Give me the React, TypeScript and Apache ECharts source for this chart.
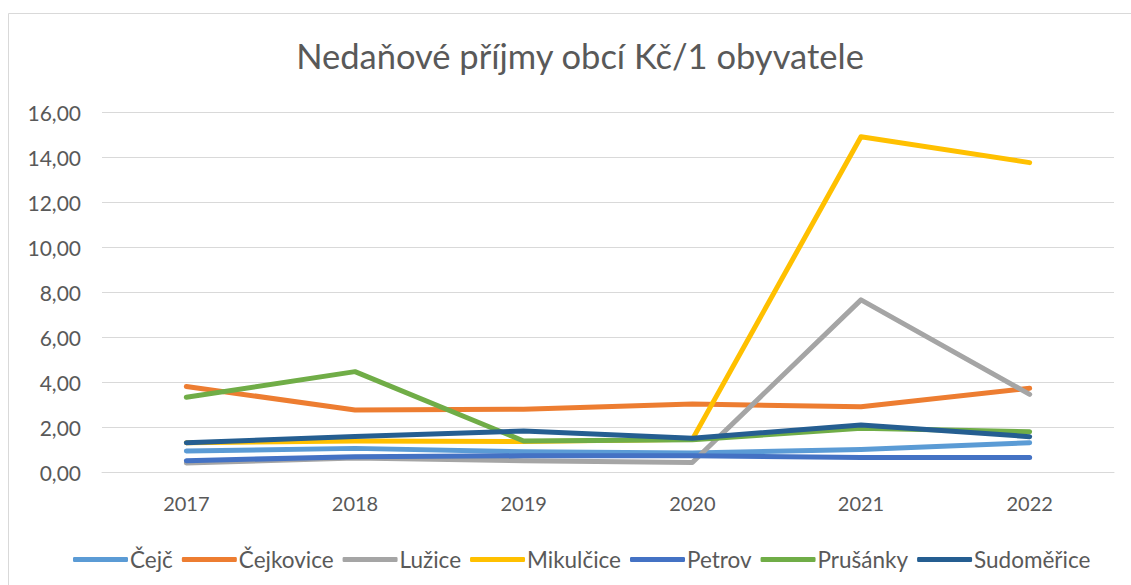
import React, { useEffect, useRef } from "react";
import * as echarts from "echarts";

const years = ["2017", "2018", "2019", "2020", "2021", "2022"];
const cejc = [0.93, 1.05, 0.9, 0.85, 1.0, 1.3];
const cejkovice = [3.8, 2.76, 2.79, 3.02, 2.9, 3.72];
const luzice = [0.4, 0.62, 0.5, 0.42, 7.65, 3.45];
const mikulcice = [1.3, 1.38, 1.35, 1.45, 14.9, 13.75];
const petrov = [0.5, 0.68, 0.72, 0.72, 0.64, 0.64];
const prusanky = [3.32, 4.46, 1.38, 1.43, 1.94, 1.79];
const sudomerice = [1.3, 1.58, 1.82, 1.5, 2.09, 1.57];

const seriesDefs = [
  { name: "Čejč", data: cejc, color: "#5B9BD5" },
  { name: "Čejkovice", data: cejkovice, color: "#ED7D31" },
  { name: "Lužice", data: luzice, color: "#A5A5A5" },
  { name: "Mikulčice", data: mikulcice, color: "#FFC000" },
  { name: "Petrov", data: petrov, color: "#4472C4" },
  { name: "Prušánky", data: prusanky, color: "#70AD47" },
  { name: "Sudoměřice", data: sudomerice, color: "#255E91" },
];

const FONT = "Lato";
const TXT = "#595959";

export default function App() {
  const ref = useRef<HTMLDivElement>(null);
  useEffect(() => {
    if (!ref.current) return;
    const chart = echarts.init(ref.current, undefined, { renderer: "svg" });
    chart.setOption({
      animation: false,
      backgroundColor: "#ffffff",
      textStyle: { fontFamily: FONT },
      title: {
        text: "Nedaňové příjmy obcí Kč/1 obyvatele",
        left: 575,
        textAlign: "center",
        top: 33,
        textStyle: { fontFamily: FONT, fontSize: 34.5, fontWeight: "normal", color: TXT },
      },
      graphic: [
        {
          type: "rect",
          shape: { x: 8.5, y: 13.5, width: 1200, height: 700 },
          style: { fill: "none", stroke: "#D9D9D9", lineWidth: 1 },
          silent: true,
        },
      ],
      grid: { left: 102, right: 17, top: 112, bottom: 113, containLabel: false },
      legend: {
        left: 73,
        top: 548,
        padding: 0,
        itemWidth: 55,
        itemHeight: 5,
        itemGap: 9,
        icon: "roundRect",
        textStyle: { fontFamily: FONT, fontSize: 22.5, color: TXT, padding: [0, 0, 0, -3] },
        data: seriesDefs.map((s) => s.name),
      },
      xAxis: {
        type: "category",
        data: years,
        boundaryGap: true,
        axisLine: { show: true, lineStyle: { color: "#D9D9D9", width: 1 } },
        axisTick: { show: false },
        axisLabel: { color: TXT, fontSize: 20, fontFamily: FONT, margin: 21 },
      },
      yAxis: {
        type: "value",
        min: 0,
        max: 16,
        interval: 2,
        axisLine: { show: false },
        axisTick: { show: false },
        splitLine: { lineStyle: { color: "#D9D9D9", width: 1 } },
        axisLabel: {
          color: TXT,
          fontSize: 21,
          fontFamily: FONT,
          margin: 21,
          formatter: (v: number) => v.toFixed(2).replace(".", ","),
        },
      },
      series: seriesDefs.map((s) => ({
        name: s.name,
        type: "line",
        data: s.data,
        symbol: "none",
        color: s.color,
        itemStyle: { color: s.color },
        lineStyle: { color: s.color, width: 5, cap: "round", join: "round" },
      })),
    });
    return () => chart.dispose();
  }, []);
  return (
    <div
      ref={ref}
      style={{ position: "fixed", left: 0, top: 0, width: 1131, height: 585 }}
    />
  );
}
